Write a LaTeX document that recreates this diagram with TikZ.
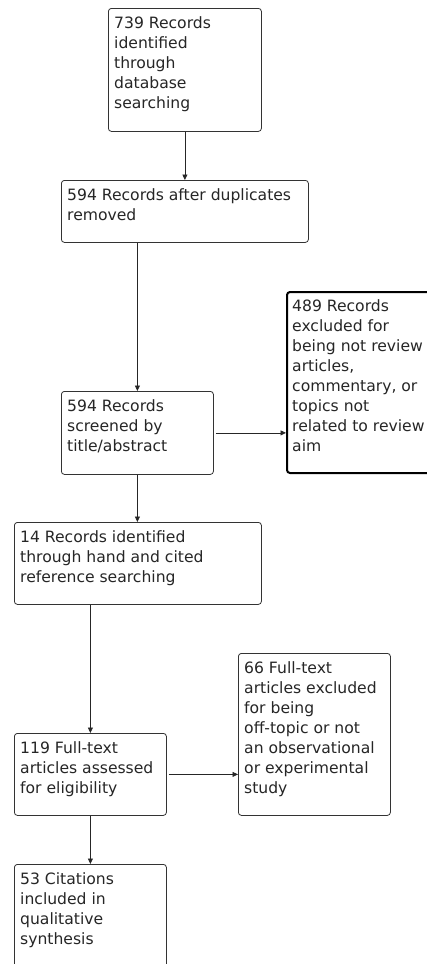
\documentclass[tikz,border=0pt]{standalone}
\usepackage{fontspec}
\setmainfont{DejaVu Sans}
\usetikzlibrary{arrows.meta,calc}
\begin{document}
\begin{tikzpicture}[x=1pt,y=-1pt,
  box/.style={draw=black!80,line width=0.8pt,rounded corners=3pt,anchor=north west,inner sep=0pt},
  thickbox/.style={box,draw=black,line width=2pt},
  txt/.style={anchor=north west,align=left,inner sep=0pt,text=black!85,font=\fontsize{15.6}{20}\selectfont,execute at begin node={\rule{0pt}{14pt}}},
  arr/.style={draw=black!85,line width=0.8pt,-{Triangle[length=5.5pt,width=5pt]}}]
\useasboundingbox[fill=white] (0,0) rectangle (427,964);
% boxes
\node[box,minimum width=153pt,minimum height=123pt] (b1) at (108,8) {};
\node[box,minimum width=247pt,minimum height=62pt] (b2) at (61,180) {};
\node[box,minimum width=152pt,minimum height=83pt] (b3) at (61,391) {};
\node[thickbox,minimum width=160pt,minimum height=181pt] (b4) at (286,291) {};
\node[box,minimum width=247pt,minimum height=82pt] (b5) at (14,522) {};
\node[box,minimum width=152pt,minimum height=82pt] (b6) at (14,733) {};
\node[box,minimum width=152pt,minimum height=162pt] (b7) at (238,653) {};
\node[box,minimum width=152pt,minimum height=140pt] (b8) at (14,864) {};
% texts
\node[txt] (t1) at ($(b1.north west)+(6,8.5)$) {739 Records\\identified\\through\\database\\searching};
\node[txt] (t2) at ($(b2.north west)+(6,8.5)$) {594 Records after duplicates\\removed};
\node[txt] (t3) at ($(b3.north west)+(6,8.5)$) {594 Records\\screened by\\title/abstract};
\node[txt] (t4) at ($(b4.north west)+(6,8.5)$) {489 Records\\excluded for\\being not review\\articles,\\commentary, or\\topics not\\related to review\\aim};
\node[txt] (t5) at ($(b5.north west)+(6,8.5)$) {14 Records identified\\through hand and cited\\reference searching};
\node[txt] (t6) at ($(b6.north west)+(6,8.5)$) {119 Full-text\\articles assessed\\for eligibility};
\node[txt] (t7) at ($(b7.north west)+(6,8.5)$) {66 Full-text\\articles excluded\\for being\\off-topic or not\\an observational\\or experimental\\study};
\node[txt] (t8) at ($(b8.north west)+(6,8.5)$) {53 Citations\\included in\\qualitative\\synthesis};
% arrows
\draw[arr] (b1.south) -- (b1.south |- b2.north);
\draw[arr] (b3.north |- b2.south) -- (b3.north);
\draw[arr] ($(b3.east)+(2,0)$) -- (b3.east -| b4.west);
\draw[arr] (b3.south) -- (b3.south |- b5.north);
\draw[arr] (b6.north |- b5.south) -- (b6.north);
\draw[arr] ($(b6.east)+(2,0)$) -- (b6.east -| b7.west);
\draw[arr] (b6.south) -- (b8.north);
\end{tikzpicture}
\end{document}
